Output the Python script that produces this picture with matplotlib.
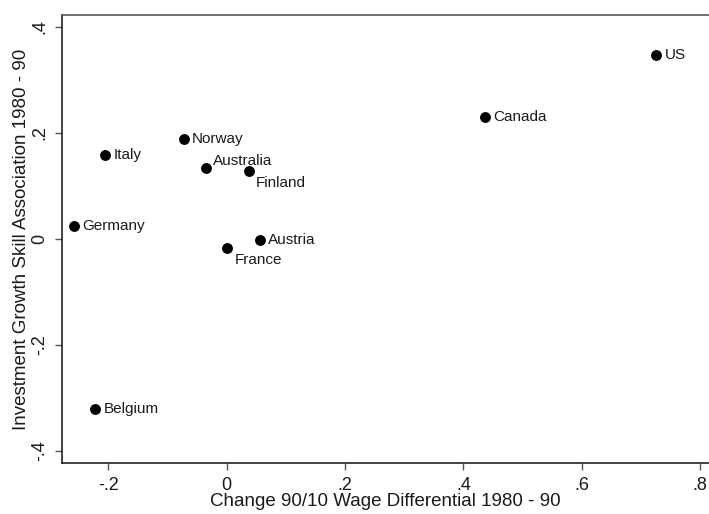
import matplotlib
matplotlib.use("Agg")
import matplotlib.pyplot as plt

# Country values, 1980 - 90
countries = ["US", "Canada", "Norway", "Italy", "Australia", "Finland",
             "Germany", "Austria", "France", "Belgium"]
wage_diff = [0.726, 0.437, -0.073, -0.206, -0.035, 0.038,
             -0.259, 0.056, 0.001, -0.222]
invest_skill = [0.346, 0.230, 0.189, 0.158, 0.134, 0.127,
                0.025, -0.002, -0.017, -0.321]

xticks = [-0.2, 0, 0.2, 0.4, 0.6, 0.8]
xtick_labels = ["-.2", "0", ".2", ".4", ".6", ".8"]
yticks = [-0.4, -0.2, 0, 0.2, 0.4]
ytick_labels = ["-.4", "-.2", "0", ".2", ".4"]

# label placement (offset in points, alignment); default is right of the dot
placement = {
    "Australia": ((5, 5), "left", "center"),
    "Finland": ((5, -8), "left", "center"),
    "France": ((5, -9), "left", "center"),
}
default_place = ((6, 0), "left", "center")

plt.rcParams["font.family"] = ["Liberation Sans", "DejaVu Sans"]

fig = plt.figure(figsize=(7.09, 5.14), dpi=100)
ax = fig.add_axes([62 / 709, 1 - 463 / 514, 1 - 62 / 709, (463 - 15) / 514])

ax.plot(wage_diff, invest_skill, "o", color="black", markersize=6.8,
        linestyle="none")
for name, x, y in zip(countries, wage_diff, invest_skill):
    off, ha, va = placement.get(name, default_place)
    ax.annotate(name, (x, y), xytext=off, textcoords="offset points",
                ha=ha, va=va, fontsize=11, color="#1a1a1a")

ax.set_xlim(-0.2785, 0.815)
ax.set_ylim(-0.4227, 0.422)
ax.set_xticks(xticks)
ax.set_xticklabels(xtick_labels)
ax.set_yticks(yticks)
ax.set_yticklabels(ytick_labels, rotation=90, va="center")
ax.tick_params(direction="out", length=5, width=1, color="#555555",
               labelsize=13, labelcolor="#1a1a1a", pad=5)

for side in ["left", "bottom"]:
    ax.spines[side].set_color("#222222")
    ax.spines[side].set_linewidth(1.2)
ax.spines["top"].set_color("#555555")
ax.spines["top"].set_linewidth(1.2)
ax.spines["right"].set_visible(False)

ax.set_xlabel("Change 90/10 Wage Differential 1980 - 90", fontsize=13.5,
              color="#1a1a1a", labelpad=-1)
ax.set_ylabel("Investment Growth Skill Association 1980 - 90", fontsize=13.5,
              color="#1a1a1a", labelpad=1)

fig.savefig("out.png", dpi=100)
